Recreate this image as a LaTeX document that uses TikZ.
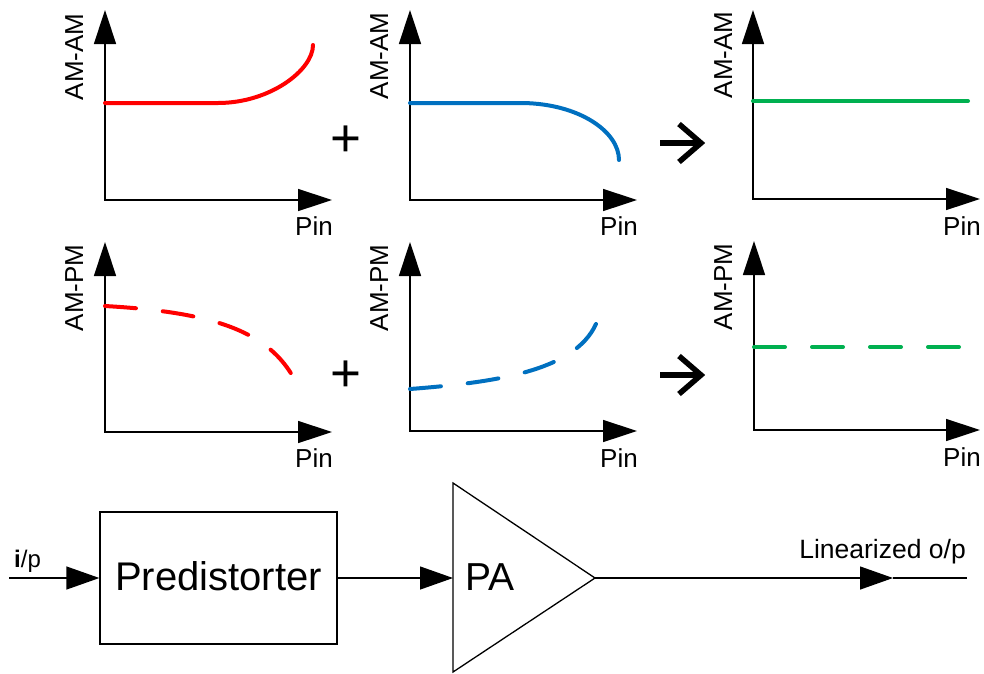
\documentclass[tikz,border=0pt]{standalone}
\usepackage{fontspec}
\setmainfont{Liberation Sans}
\usetikzlibrary{arrows.meta}
\definecolor{cred}{RGB}{255,0,0}
\definecolor{cblue}{RGB}{0,112,192}
\definecolor{cgreen}{RGB}{0,176,80}
\begin{document}
\begin{tikzpicture}[x=1pt,y=-1pt,
  axis/.style={line width=1.5pt,{Triangle[length=34pt,width=22pt]}-{Triangle[length=34pt,width=22pt]}},
  conn/.style={line width=1.3pt,-{Triangle[length=33pt,width=23pt]}},
  thin/.style={line width=1.3pt},
  curve/.style={line width=4pt,line cap=round},
  dashcurve/.style={curve,dash pattern=on 31pt off 27pt},
  lbl/.style={font=\fontsize{26}{30}\selectfont,inner sep=0pt},
  ylbl/.style={lbl,rotate=90,anchor=base},
  pin/.style={lbl,anchor=base east},
  plussign/.style={font=\fontsize{53}{60}\selectfont,inner sep=0pt},
  res/.style={line width=5.5pt,miter limit=10,line join=miter},
]
\useasboundingbox (0,0) rectangle (984,673);

% ---------- Plot 1 ----------
\coordinate (o1) at (105,200);
\coordinate (y1) at (105,10);
\coordinate (x1) at (332,200);
\draw[axis] (y1) -- (o1) -- (x1);
\draw[curve,cred] (105,103) -- (218,103) .. controls (270,103) and (313,70) .. (313,45);
\node[ylbl] (l1) at (83,57) {AM-AM};
\node[pin] (p1) at (333,235) {Pin};

% ---------- Plot 2 ----------
\coordinate (o2) at (410,200);
\coordinate (y2) at (410,10);
\coordinate (x2) at (637,200);
\draw[axis] (y2) -- (o2) -- (x2);
\draw[curve,cblue] (410,103) -- (523,103) .. controls (580,104) and (619,132) .. (619,160);
\node[ylbl] (l2) at (388,56) {AM-AM};
\node[pin] (p2) at (638,235) {Pin};

% ---------- Plot 3 ----------
\coordinate (o3) at (753,199);
\coordinate (y3) at (753,10);
\coordinate (x3) at (980,199);
\draw[axis] (y3) -- (o3) -- (x3);
\draw[curve,cgreen] (753,101) -- (968,101);
\node[ylbl] (l3) at (732,55) {AM-AM};
\node[pin] (p3) at (981,235) {Pin};

% ---------- Plot 4 ----------
\coordinate (o4) at (105,432);
\coordinate (y4) at (105,242);
\coordinate (x4) at (332,432);
\draw[axis] (y4) -- (o4) -- (x4);
\draw[dashcurve,cred] (105,306) .. controls (210,312) and (265,330) .. (292,375);
\node[ylbl] (l4) at (83,288) {AM-PM};
\node[pin] (p4) at (333,467) {Pin};

% ---------- Plot 5 ----------
\coordinate (o5) at (410,431);
\coordinate (y5) at (410,242);
\coordinate (x5) at (637,431);
\draw[axis] (y5) -- (o5) -- (x5);
\draw[dashcurve,cblue] (410,389) .. controls (500,382) and (580,370) .. (598,319);
\node[ylbl] (l5) at (388,288) {AM-PM};
\node[pin] (p5) at (638,467) {Pin};

% ---------- Plot 6 ----------
\coordinate (o6) at (754,430);
\coordinate (y6) at (754,241);
\coordinate (x6) at (980,430);
\draw[axis] (y6) -- (o6) -- (x6);
\draw[dashcurve,cgreen] (754,347) -- (963,347);
\node[ylbl] (l6) at (732,287) {AM-PM};
\node[pin] (p6) at (981,466) {Pin};

% ---------- plus signs and result arrows ----------
\node[plussign] (plus1) at (346,141) {+};
\node[plussign] (plus2) at (346,376) {+};
\draw[res] (660,143) -- (700,143);
\draw[res] (679,124) -- (701,143) -- (679,162);
\draw[res] (660,375) -- (700,375);
\draw[res] (679,356) -- (701,375) -- (679,394);

% ---------- block diagram ----------
\coordinate (in) at (9,578);
\node[draw,thin,minimum width=237pt,minimum height=132pt,inner sep=0pt] (pd) at (218.5,578) {};
\node[font=\fontsize{40}{46}\selectfont,inner sep=0pt,anchor=base] (pdt) at (218.5,590) {Predistorter};
\draw[thin,line join=miter] (453,483) coordinate (paT) -- (595,578) coordinate (paO) -- (453,672) coordinate (paB) -- cycle;
\coordinate (paI) at (453,578);
\node[font=\fontsize{39}{45}\selectfont,inner sep=0pt,anchor=base west] (pat) at (465,590) {PA};
\coordinate (oarr) at (893,578);
\coordinate (out) at (967,578);
\draw[conn] (in) -- (pd.west);
\draw[conn] (pd.east) -- (paI);
\draw[conn] (paO) -- (oarr);
\draw[thin] (oarr) -- (out);
\node[font=\fontsize{24}{28}\selectfont,inner sep=0pt,anchor=base west] (ip) at (14,567) {\textbf{i}/p};
\node[font=\fontsize{26.5}{30}\selectfont,inner sep=0pt,anchor=base east] (lo) at (966,558) {Linearized o/p};
\end{tikzpicture}
\end{document}
